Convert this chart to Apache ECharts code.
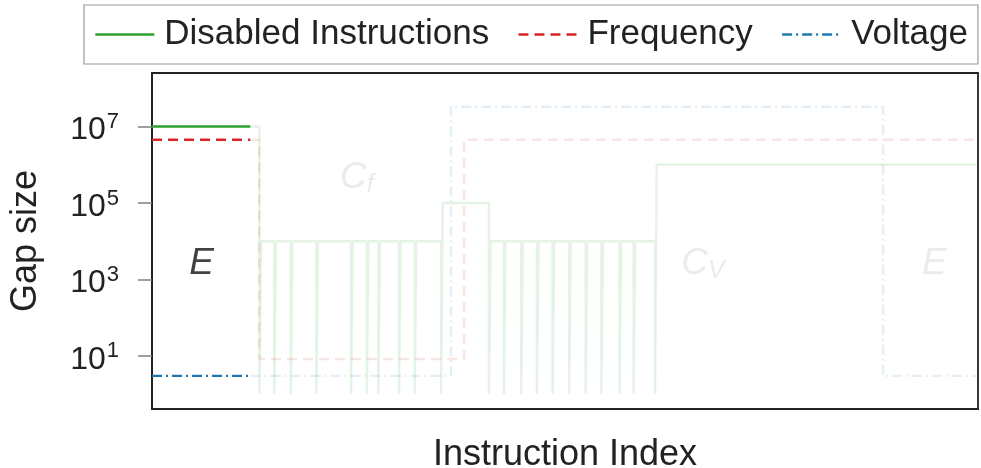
<!DOCTYPE html>
<html><head><meta charset="utf-8">
<script src="https://cdn.jsdelivr.net/npm/echarts@6/dist/echarts.min.js"></script>
<style>html,body{margin:0;padding:0;background:#fff}#c{width:981px;height:468px}</style>
</head><body><div id="c"></div>
<script>
// ---- data (x = instruction index 0..1000, y = gap size) ----
const seriesNames = ['Disabled Instructions', 'Frequency', 'Voltage'];
const highlightEnd = 119;          // end of the highlighted region "E"
const xMax = 1000;
// Disabled instructions: plateaus [startIndex, endIndex, gap]
const disabledPlateaus = [[0,130,1e7],[130,350,1e4],[350,408,1e5],[408,609,1e4],[609,1000,1e6]];
// indices where the gap drops to 1
const disabledSpikes = [130,148,168,199,241,260,274,299,318,350,408,426,447,466,485,505,525,544,566,583,609];
const spikeWidth = 2;
// Frequency / Voltage steps [startIndex, gap]
const frequencySteps = [[0,4.5e6],[130,8.3],[378,4.5e6]];
const voltageSteps = [[0,3],[362,3.3e7],[885,3]];
const yTicks = [10,1e3,1e5,1e7];
// region annotations [index, gap, main, subscript, faded]
const annotations = [[60,2600,'E','',false],[248,4.6e5,'C','f',true],[667,2600,'C','V',true],[947,2600,'E','',true]];

// ---- build polylines ----
function plateauAt(x){ for(const p of disabledPlateaus){ if(x>=p[0] && x<p[1]) return p[2]; } return disabledPlateaus[disabledPlateaus.length-1][2]; }
function buildDisabled(){
  const pts=[[0,plateauAt(0)]];
  for(const s of disabledSpikes){
    pts.push([s,plateauAt(s-0.5)],[s,1],[s+spikeWidth,1],[s+spikeWidth,plateauAt(s+spikeWidth+0.5)]);
  }
  pts.push([xMax,plateauAt(xMax-0.5)]);
  return pts;
}
function buildSteps(steps){
  const pts=[];
  for(let i=0;i<steps.length;i++){
    const end = i<steps.length-1 ? steps[i+1][0] : xMax;
    pts.push([steps[i][0],steps[i][1]],[end,steps[i][1]]);
  }
  return pts;
}
function splitAt(pts,xs){
  const a=[],b=[];
  for(let i=0;i<pts.length;i++){
    const p=pts[i];
    if(p[0]<=xs) a.push(p);
    if(p[0]>=xs) b.push(p);
    if(i<pts.length-1){const q=pts[i+1]; if(p[0]<xs && q[0]>xs){a.push([xs,p[1]]);b.push([xs,p[1]]);}}
  }
  return [a,b];
}
const colors=['#2ca02c','#d62728','#1f77b4'];
const dashes=['solid',[10,6],[10,4,2,4]];
const lines=[buildDisabled(),buildSteps(frequencySteps),buildSteps(voltageSteps)];
const FONT='Liberation Sans';

const series=[];
lines.forEach((pts,i)=>{
  const [bold,faded]=splitAt(pts,highlightEnd);
  series.push({name:seriesNames[i]+' ', type:'line', data:faded, symbol:'none', z:1, silent:true,
    lineStyle:{color:colors[i],width:2.4,type:dashes[i],opacity:0.12}, itemStyle:{color:colors[i]}});
});
lines.forEach((pts,i)=>{
  const [bold,faded]=splitAt(pts,highlightEnd);
  series.push({name:seriesNames[i], type:'line', data:bold, symbol:'none', z:3, silent:true,
    lineStyle:{color:colors[i],width:2.4,type:dashes[i]}, itemStyle:{color:colors[i]}});
});
series.push({type:'scatter', z:4, silent:true, symbolSize:0.01, itemStyle:{color:'rgba(0,0,0,0)'},
  data: annotations.map(a=>({value:[a[0],a[1]], label:{color: a[4]?'#e6e6e6':'#111'}})),
  label:{show:true, position:'inside',
    formatter:(p)=>{ const a=annotations[p.dataIndex]; return '{m|'+a[2]+'}'+(a[3]?'{s|'+a[3]+'}':''); },
    rich:{m:{fontFamily:FONT,fontSize:37,fontStyle:'italic',lineHeight:40},
          s:{fontFamily:FONT,fontSize:25,fontStyle:'italic',verticalAlign:'bottom',lineHeight:30}}}
});

const chart=echarts.init(document.getElementById('c'),null,{renderer:'canvas'});
chart.setOption({
  animation:false,
  backgroundColor:'#fff',
  grid:{left:152,right:3,top:73,bottom:59,outerBoundsMode:'none',containLabel:false,show:true,borderColor:'#222',borderWidth:1.8,backgroundColor:'transparent'},
  legend:{left:84,top:5,padding:[12,10],itemWidth:59,itemHeight:35,itemGap:28,borderColor:'#9a9a9a',borderWidth:1.2,
    data:seriesNames, selectedMode:false, itemStyle:{opacity:0}, lineStyle:{width:2.6},
    textStyle:{fontFamily:FONT,fontSize:35,color:'#222',padding:[0,0,0,5]}},
  xAxis:{type:'value',min:0,max:xMax,axisLine:{show:true,lineStyle:{color:'#222',width:1.8}},axisTick:{show:false},axisLabel:{show:false},splitLine:{show:false},
    name:'Instruction Index',nameLocation:'middle',nameGap:28,nameTextStyle:{fontFamily:FONT,fontSize:36,color:'#222',verticalAlign:'top'}},
  yAxis:{type:'log',logBase:10,min:0.407,max:2.51e8,
    axisLine:{show:true,lineStyle:{color:'#222',width:1.8}},
    axisTick:{show:true,customValues:yTicks,length:14,lineStyle:{color:'#808080',width:1.5}},
    axisLabel:{customValues:yTicks,margin:33,color:'#222',
      formatter:(v)=>'{b|10}{s|'+Math.round(Math.log10(v))+'}',
      rich:{b:{fontFamily:FONT,fontSize:32,lineHeight:34,padding:[8,0,0,0],color:'#222'},
            s:{fontFamily:FONT,fontSize:22,lineHeight:22,padding:[0,0,9,1],color:'#222'}}},
    splitLine:{show:false},
    name:'Gap size',nameLocation:'middle',nameGap:108,nameTextStyle:{fontFamily:FONT,fontSize:36,color:'#222'}},
  series:series
});
</script></body></html>
